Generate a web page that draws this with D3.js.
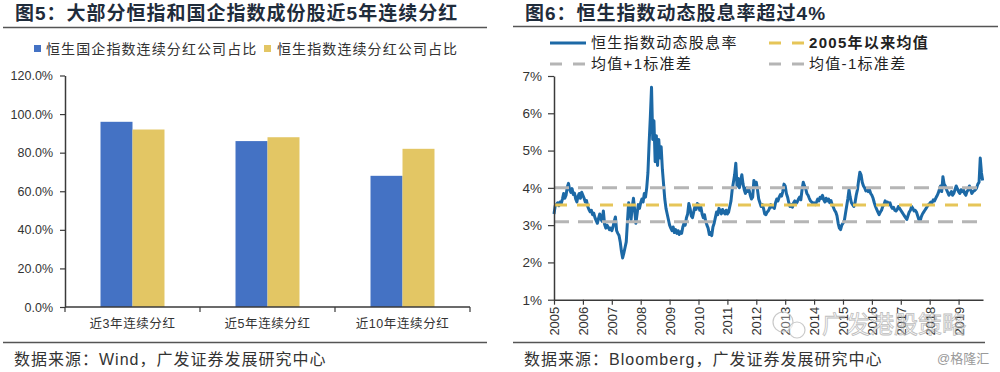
<!DOCTYPE html>
<html><head><meta charset="utf-8">
<script src="https://cdn.jsdelivr.net/npm/d3@7"></script>
<style>
body{margin:0;background:#fff;}
svg{display:block;}
text{font-family:"Liberation Sans","Noto Sans CJK SC",sans-serif;}
</style></head><body>
<svg id="c" width="1000" height="372"></svg>
<script>
// ---------- Left chart data ----------
const barCategories = ["近3年连续分红", "近5年连续分红", "近10年连续分红"];
const barSeriesNames = ["恒生国企指数连续分红公司占比", "恒生指数连续分红公司占比"];
const hsceiShare = [0.96, 0.86, 0.68];
const hsiShare = [0.92, 0.88, 0.82];
const barTicks = [0, 0.2, 0.4, 0.6, 0.8, 1.0, 1.2];

// ---------- Right chart data (semi-monthly readings, %) ----------
const yieldStart = 2005;
const yieldStepsPerYear = 24;
const y2005 = [3.30,3.52,3.55,3.60,3.52,3.62,3.58,3.70,3.85,3.72,3.80,4.02,4.12,3.95,3.88,3.98,3.82,3.86,3.70,3.62,3.78,3.85,3.72,3.88];
const y2006 = [3.80,3.72,3.62,3.66,3.50,3.42,3.36,3.40,3.28,3.32,3.20,3.12,3.05,3.18,3.30,3.16,3.10,3.38,3.02,2.92,3.00,2.95,2.88,2.92];
const y2007 = [2.85,2.95,3.10,3.22,2.85,2.78,2.72,2.55,2.30,2.12,2.25,2.40,2.55,3.10,3.60,3.35,3.15,3.50,3.72,3.40,3.05,3.30,3.55,3.45];
const y2008 = [3.60,3.70,3.62,3.85,3.75,4.00,4.40,5.20,5.90,6.70,5.30,5.80,4.70,5.40,4.60,5.30,4.80,5.10,4.50,4.10,3.70,3.45,3.30,3.15];
const y2009 = [3.00,2.92,2.85,2.95,2.80,2.88,2.78,2.85,2.75,2.82,2.78,2.95,3.05,3.00,3.20,3.30,3.58,3.45,3.25,3.20,3.35,3.50,3.42,3.58];
const y2010 = [3.55,3.40,3.48,3.30,3.20,3.28,3.10,3.00,2.92,2.75,2.80,2.72,2.95,3.05,3.20,3.35,3.28,3.45,3.38,3.30,3.42,3.35,3.30,3.40];
const y2011 = [3.30,3.35,3.50,3.65,3.95,4.15,4.35,4.66,4.05,4.25,4.00,4.20,4.35,4.10,3.95,3.85,4.00,3.90,3.95,3.80,3.70,3.75,4.20,4.05];
const y2012 = [4.15,3.95,3.70,3.60,3.50,3.55,3.45,3.30,3.28,3.35,3.38,3.45,3.55,3.48,3.52,3.45,3.60,3.70,3.65,3.75,3.82,3.78,3.90,4.10];
const y2013 = [4.05,3.85,3.75,3.60,3.50,3.55,3.48,3.60,3.65,3.58,3.62,3.70,3.75,3.68,3.95,4.15,4.05,3.98,3.85,3.80,3.72,3.65,3.62,3.58];
const y2014 = [3.60,3.55,3.62,3.70,3.65,3.75,3.72,3.80,3.68,3.62,3.72,3.65,3.70,3.60,3.66,3.55,3.48,3.40,3.35,3.25,3.05,2.92,2.88,3.00];
const y2015 = [3.05,3.10,3.30,3.50,3.70,3.95,3.75,3.60,3.55,3.50,3.60,3.80,3.95,4.20,4.42,4.35,4.15,4.05,4.00,3.92,3.98,3.90,3.95,3.85];
const y2016 = [3.80,3.72,3.60,3.50,3.42,3.35,3.28,3.35,3.40,3.50,3.55,3.65,3.60,3.62,3.55,3.60,3.50,3.45,3.48,3.40,3.38,3.42,3.50,3.45];
const y2017 = [3.40,3.35,3.30,3.25,3.20,3.15,3.25,3.35,3.40,3.50,3.45,3.38,3.40,3.35,3.25,3.15,3.10,3.22,3.30,3.35,3.40,3.45,3.50,3.55];
const y2018 = [3.58,3.62,3.60,3.68,3.65,3.72,3.78,3.85,3.95,4.05,3.90,4.30,4.10,4.05,3.95,3.88,3.80,3.85,3.90,3.80,3.85,3.95,4.05,3.98];
const y2019 = [3.90,3.85,3.95,3.90,3.95,3.85,3.80,3.90,3.95,4.05,3.95,3.85,3.90,3.92,3.95,4.00,4.10,4.15,4.80,4.40,4.20];
const dividendYield = [].concat(y2005,y2006,y2007,y2008,y2009,y2010,y2011,y2012,y2013,y2014,y2015,y2016,y2017,y2018,y2019);
const yieldMean = 3.54;
const yieldPlusSd = 4.00;
const yieldMinusSd = 3.09;
const yieldYears = [2005,2006,2007,2008,2009,2010,2011,2012,2013,2014,2015,2016,2017,2018,2019];
const yieldTicks = [1,2,3,4,5,6,7];
const lineNames = ["恒生指数动态股息率", "2005年以来均值", "均值+1标准差", "均值-1标准差"];

const svg = d3.select("#c");
const titleColor = "#1f2c3b";
const axisColor = "#3a3a3a";

// ---------- Titles and rules ----------
function title(x, t) {
  svg.append("text").attr("x", x).attr("y", 20).attr("font-size", 19).attr("font-weight", "bold")
    .attr("letter-spacing", 1).attr("fill", titleColor).text(t);
}
title(15, "图5：大部分恒指和国企指数成份股近5年连续分红");
title(525, "图6：恒生指数动态股息率超过4%");
svg.append("line").attr("x1", 3).attr("x2", 487).attr("y1", 27.5).attr("y2", 27.5).attr("stroke", "#555").attr("stroke-width", 1.6);
svg.append("line").attr("x1", 513).attr("x2", 998).attr("y1", 26.5).attr("y2", 26.5).attr("stroke", "#555").attr("stroke-width", 1.6);
svg.append("line").attr("x1", 3).attr("x2", 487).attr("y1", 342.5).attr("y2", 342.5).attr("stroke", "#555").attr("stroke-width", 1.6);
svg.append("line").attr("x1", 513).attr("x2", 985).attr("y1", 342.5).attr("y2", 342.5).attr("stroke", "#555").attr("stroke-width", 1.6);
svg.append("text").attr("x", 14).attr("y", 365).attr("font-size", 16).attr("letter-spacing", 1).attr("fill", "#333").text("数据来源：Wind，广发证券发展研究中心");
svg.append("text").attr("x", 524).attr("y", 365).attr("font-size", 16).attr("letter-spacing", 1).attr("fill", "#333").text("数据来源：Bloomberg，广发证券发展研究中心");
svg.append("text").attr("x", 937).attr("y", 363).attr("font-size", 13).attr("fill", "#9a9a9a").text("@格隆汇");

// ---------- Left bar chart ----------
const L = svg.append("g");
const barColors = ["#4472c4", "#e3c664"];
const yB = d3.scaleLinear().domain([0, 1.2]).range([307, 75.5]);
const x0 = d3.scaleBand().domain(barCategories).range([65, 470]).paddingInner(0.526).paddingOuter(0.263);
const x1 = d3.scaleBand().domain([0, 1]).range([0, x0.bandwidth()]);
[hsceiShare, hsiShare].forEach((s, si) => {
  L.selectAll(null).data(s).enter().append("rect")
    .attr("x", (d, i) => x0(barCategories[i]) + x1(si))
    .attr("y", d => yB(d))
    .attr("width", x1.bandwidth())
    .attr("height", d => yB(0) - yB(d))
    .attr("fill", barColors[si]);
});
const yAxB = L.append("g").attr("transform", "translate(65,0)")
  .call(d3.axisLeft(yB).tickValues(barTicks).tickFormat(d3.format(".1%")).tickSize(5).tickSizeOuter(0).tickPadding(7));
yAxB.select(".domain").attr("stroke", axisColor).attr("stroke-width", 1.5);
yAxB.selectAll(".tick line").attr("stroke", axisColor).attr("stroke-width", 1.2);
yAxB.selectAll("text").attr("font-size", 12.5).attr("fill", "#333").attr("font-family", "Liberation Sans");
// bottom category axis
const [bx0, bx1] = x0.range();
L.append("line").attr("x1", bx0).attr("x2", bx1).attr("y1", yB(0)).attr("y2", yB(0)).attr("stroke", axisColor).attr("stroke-width", 1.5);
L.selectAll(null).data(d3.range(barCategories.length + 1)).enter().append("line")
  .attr("x1", i => bx0 + i * x0.step()).attr("x2", i => bx0 + i * x0.step())
  .attr("y1", yB(0)).attr("y2", yB(0) + 5).attr("stroke", axisColor).attr("stroke-width", 1.2);
L.selectAll(null).data(barCategories).enter().append("text")
  .attr("x", d => x0(d) + x0.bandwidth() / 2).attr("y", 328).attr("text-anchor", "middle")
  .attr("font-size", 12.5).attr("letter-spacing", 0.6).attr("fill", "#333").text(d => d);
// legend
const legB = [[34, 46], [264, 277]];
barSeriesNames.forEach((n, i) => {
  L.append("rect").attr("x", legB[i][0]).attr("y", 45).attr("width", 7).attr("height", 7).attr("fill", barColors[i]);
  L.append("text").attr("x", legB[i][1]).attr("y", 54).attr("font-size", 14).attr("letter-spacing", 1.1).attr("fill", "#333").text(n);
});

// ---------- Right line chart ----------
const R = svg.append("g");
const xT = d3.scaleLinear().domain([2005, 2019.845]).range([554, 983]);
const yT = d3.scaleLinear().domain([1, 7]).range([299.7, 76]);
const line = d3.line().x((d, i) => xT(yieldStart + i / yieldStepsPerYear)).y(d => yT(d));
R.append("path").datum(dividendYield).attr("d", line).attr("fill", "none")
  .attr("stroke", "#1c69a6").attr("stroke-width", 3).attr("stroke-linejoin", "round");
const refLines = [[yieldPlusSd, "#b5b5b5", "15,9"], [yieldMinusSd, "#b5b5b5", "15,9"], [yieldMean, "#e6c558", "13,10"]];
refLines.forEach(r => {
  R.append("line").attr("x1", xT(2005)).attr("x2", xT.range()[1]).attr("y1", yT(r[0])).attr("y2", yT(r[0]))
    .attr("stroke", r[1]).attr("stroke-width", 3).attr("stroke-dasharray", r[2]);
});
const yAxT = R.append("g").attr("transform", "translate(554,0)")
  .call(d3.axisLeft(yT).tickValues(yieldTicks).tickFormat(d => d + "%").tickSize(6).tickSizeOuter(0).tickPadding(6));
yAxT.select(".domain").attr("stroke", axisColor).attr("stroke-width", 1.5);
yAxT.selectAll(".tick line").attr("stroke", axisColor).attr("stroke-width", 1.2);
yAxT.selectAll("text").attr("font-size", 13.5).attr("fill", "#333").attr("font-family", "Liberation Sans");
const xAxT = R.append("g").attr("transform", "translate(0," + yT(1) + ")")
  .call(d3.axisBottom(xT).tickValues(yieldYears).tickFormat(d => String(d)).tickSize(5).tickSizeOuter(0));
xAxT.select(".domain").attr("stroke", axisColor).attr("stroke-width", 1.5);
xAxT.selectAll(".tick line").attr("stroke", axisColor).attr("stroke-width", 1.2);
xAxT.selectAll("text").attr("font-size", 13).attr("fill", "#333").attr("font-family", "Liberation Sans")
  .attr("transform", "rotate(-90)").attr("text-anchor", "end").attr("x", -7).attr("y", 0).attr("dy", "0.35em");

// legend
const legT = [
  { x: 550, tx: 591, y: 43, color: "#1c69a6", dash: null },
  { x: 769, tx: 809, y: 43, color: "#e6c558", dash: "12,11" },
  { x: 550, tx: 591, y: 64, color: "#b5b5b5", dash: "12,11" },
  { x: 769, tx: 809, y: 64, color: "#b5b5b5", dash: "12,11" }
];
lineNames.forEach((n, i) => {
  const g = legT[i];
  const l = R.append("line").attr("x1", g.x).attr("x2", g.x + 36).attr("y1", g.y).attr("y2", g.y)
    .attr("stroke", g.color).attr("stroke-width", 3);
  if (g.dash) l.attr("stroke-dasharray", g.dash);
  R.append("text").attr("x", g.tx).attr("y", g.y + 5).attr("font-size", 15).attr("font-weight", i === 1 ? "bold" : "normal")
    .attr("letter-spacing", 1.3).attr("fill", "#222").text(n);
});

// watermark
const wm = svg.append("g").attr("opacity", 0.75);
wm.append("circle").attr("cx", 783).attr("cy", 322).attr("r", 10).attr("fill", "rgba(255,255,255,0.4)").attr("stroke", "#b8b8b8").attr("stroke-width", 1.2);
wm.append("circle").attr("cx", 797).attr("cy", 330).attr("r", 8).attr("fill", "rgba(255,255,255,0.6)").attr("stroke", "#b8b8b8").attr("stroke-width", 1.2);
wm.append("text").attr("x", 822).attr("y", 333).attr("font-size", 24).attr("fill", "rgba(255,255,255,0.35)")
  .attr("stroke", "#a8a8a8").attr("stroke-width", 0.8).text("广发港股策略");
</script>
</body></html>
